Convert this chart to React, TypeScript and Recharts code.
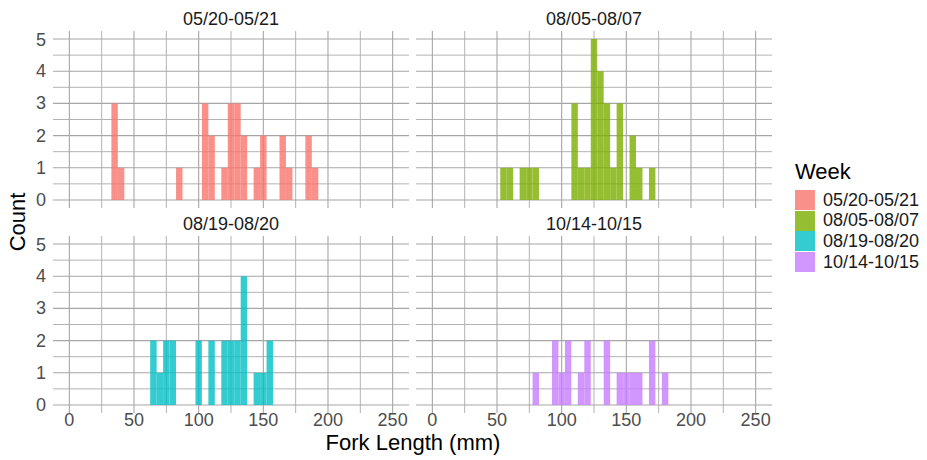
import React from "react";
import { BarChart, Bar, XAxis, YAxis, CartesianGrid } from "recharts";

// fork length bins (mm, bin centre, width 5) and counts per week
const weeks = ["05/20-05/21", "08/05-08/07", "08/19-08/20", "10/14-10/15"];
const colors = ["#F8766D", "#7CAE00", "#00BFC4", "#C77CFF"];

const binsMay = [35, 40, 85, 105, 110, 120, 125, 130, 135, 145, 150, 165, 170, 185, 190];
const countsMay = [3, 1, 1, 3, 2, 1, 3, 3, 2, 1, 2, 2, 1, 2, 1];

const binsAug1 = [55, 60, 70, 75, 80, 110, 115, 120, 125, 130, 135, 140, 145, 155, 160, 170];
const countsAug1 = [1, 1, 1, 1, 1, 3, 1, 1, 5, 4, 3, 1, 3, 2, 1, 1];

const binsAug2 = [65, 70, 75, 80, 100, 110, 120, 125, 130, 135, 145, 150, 155];
const countsAug2 = [2, 1, 2, 2, 2, 2, 2, 2, 2, 4, 1, 1, 2];

const binsOct = [80, 95, 100, 105, 115, 120, 135, 145, 150, 155, 160, 170, 180];
const countsOct = [1, 2, 1, 2, 1, 2, 2, 1, 1, 1, 1, 2, 1];

const xMajor = [0, 50, 100, 150, 200, 250];
const xMinor = [25, 75, 125, 175, 225];
const yMajor = [0, 1, 2, 3, 4, 5];
const yMinor = [0.5, 1.5, 2.5, 3.5, 4.5];

const FONT = "'Liberation Sans', Arial, Helvetica, sans-serif";
const PW = 356; // panel width
const PH = 177; // panel height
const YW = 50;
const XH = 25;

const toRows = (bins: number[], counts: number[]) =>
  bins.map((b, i) => ({ bin: b, count: counts[i] }));

const panels = [
  { rows: toRows(binsMay, countsMay), left: 53, top: 31, showY: true, showX: false },
  { rows: toRows(binsAug1, countsAug1), left: 416, top: 31, showY: false, showX: false },
  { rows: toRows(binsAug2, countsAug2), left: 53, top: 236, showY: true, showX: true },
  { rows: toRows(binsOct, countsOct), left: 416, top: 236, showY: false, showX: true },
];

const YTick = (p: any) => (
  <text x={p.x} y={p.y} textAnchor="end" dominantBaseline="central"
    fill="#4D4D4D" fontSize={18} fontFamily={FONT}>
    {p.payload.value}
  </text>
);

const XTick = (p: any) => (
  <text x={p.x} y={p.y} textAnchor="middle" dominantBaseline="central"
    fill="#4D4D4D" fontSize={18} fontFamily={FONT}>
    {p.payload.value}
  </text>
);

const NoTick = () => <g />;

function Panel({ rows, color, showY, showX }: any) {
  return (
    <BarChart width={YW + PW} height={PH + XH} data={rows}
      margin={{ top: 0, right: 0, bottom: 0, left: 0 }}>
      <CartesianGrid horizontalValues={yMinor} verticalValues={xMinor}
        stroke="#b3b3b3" strokeWidth={1} />
      <CartesianGrid horizontalValues={yMajor} verticalValues={xMajor}
        stroke="#a6a6a6" strokeWidth={1.1} />
      <XAxis dataKey="bin" type="number" domain={[-12.65, 262.65]} allowDataOverflow
        ticks={xMajor} height={XH} axisLine={false} tickLine={false}
        tickSize={0} tickMargin={7} tick={showX ? XTick : NoTick} />
      <YAxis type="number" domain={[-0.25, 5.25]} allowDataOverflow ticks={yMajor}
        width={YW} axisLine={false} tickLine={false} tickSize={0} tickMargin={7}
        tick={showY ? YTick : NoTick} />
      <Bar dataKey="count" fill={color} fillOpacity={0.8} barSize={6.45}
        isAnimationActive={false} />
    </BarChart>
  );
}

export default function App() {
  return (
    <div style={{ position: "absolute", left: 0, top: 0, width: 927, height: 460,
      background: "#fff", fontFamily: FONT }}>
      {panels.map((p, i) => (
        <React.Fragment key={weeks[i]}>
          <div style={{ position: "absolute", left: p.left - YW, top: p.top }}>
            <Panel rows={p.rows} color={colors[i]} showY={p.showY} showX={p.showX} />
          </div>
          <div style={{ position: "absolute", left: p.left, width: PW, top: p.top - 22,
            textAlign: "center", fontSize: 18, color: "#1A1A1A", lineHeight: "20px" }}>
            {weeks[i]}
          </div>
        </React.Fragment>
      ))}

      {/* axis titles */}
      <div style={{ position: "absolute", left: 18 - 60, top: 222 - 12, width: 120,
        textAlign: "center", fontSize: 22, lineHeight: "24px", transform: "rotate(-90deg)" }}>
        Count
      </div>
      <div style={{ position: "absolute", left: 53, width: 720, top: 433,
        textAlign: "center", fontSize: 22, lineHeight: "20px" }}>
        Fork Length (mm)
      </div>

      {/* legend */}
      <div style={{ position: "absolute", left: 795, top: 159, fontSize: 22, lineHeight: "26px" }}>
        Week
      </div>
      {weeks.map((w, i) => (
        <div key={w} style={{ position: "absolute", left: 795, top: 190 + i * 20.7,
          display: "flex", alignItems: "center", height: 20 }}>
          <div style={{ width: 20, height: 20, background: colors[i], opacity: 0.8 }} />
          <span style={{ marginLeft: 8, fontSize: 18, color: "#1A1A1A" }}>{w}</span>
        </div>
      ))}
    </div>
  );
}
